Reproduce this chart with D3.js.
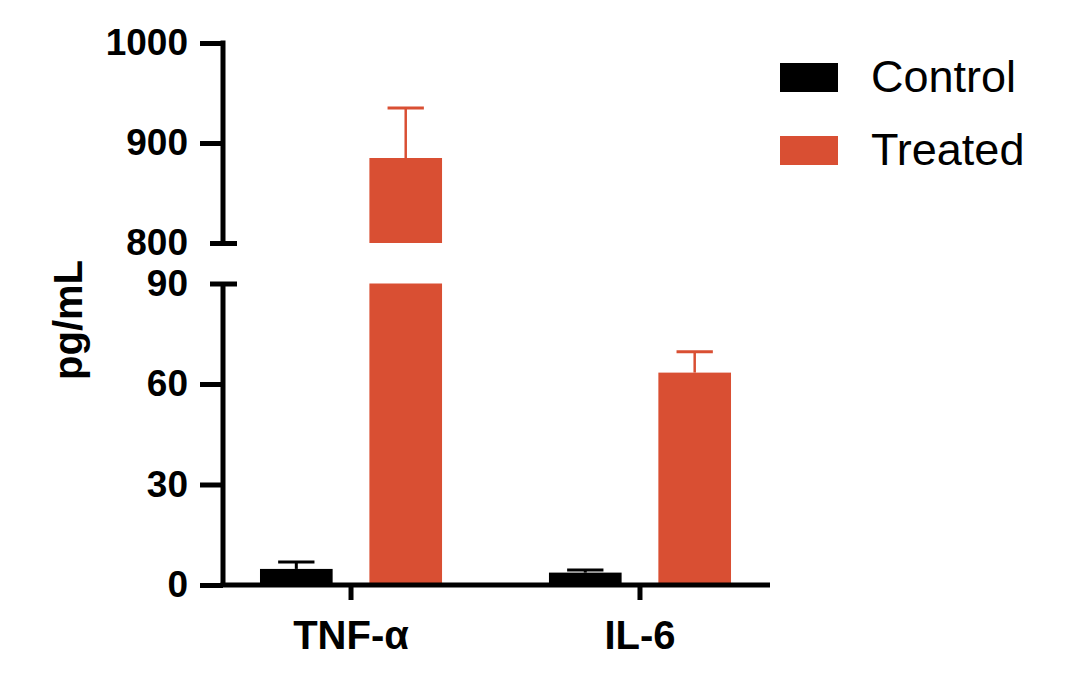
<!DOCTYPE html>
<html>
<head>
<meta charset="utf-8">
<script src="https://cdn.jsdelivr.net/npm/d3@7"></script>
<style>
html,body{margin:0;padding:0;background:#fff;}
svg{display:block;font-family:"Liberation Sans",Arial,Helvetica,sans-serif;}
</style>
</head>
<body>
<svg id="chart" width="1071" height="676"></svg>
<script>
// ---- data ----
const categories = ["TNF-α", "IL-6"];
const seriesNames = ["Control", "Treated"];
const controlValues = [4.8, 3.7];
const controlErrors = [2.1, 0.8];
const treatedValues = [885, 63.4];
const treatedErrors = [50, 6.2];
const topTicks = [800, 900, 1000];
const bottomTicks = [0, 30, 60, 90];
const yTitle = "pg/mL";

const colors = {Control: "#000000", Treated: "#D94F33"};

const svg = d3.select("#chart");
const axisX = 223;
const axisW = 5;

// scales
const yTop = d3.scaleLinear().domain([800, 1000]).range([243, 43]);
const yBot = d3.scaleLinear().domain([0, 90]).range([585, 283.5]);
const x0 = d3.scaleBand().domain(categories).range([223, 768]).paddingInner(0.37).paddingOuter(0.128);
const x1 = d3.scaleBand().domain(seriesNames).range([0, x0.bandwidth()]).paddingInner(0.336).paddingOuter(0);

const data = [];
categories.forEach((c, i) => {
  data.push({cat: c, series: "Control", v: controlValues[i], e: controlErrors[i]});
  data.push({cat: c, series: "Treated", v: treatedValues[i], e: treatedErrors[i]});
});

const bars = svg.append("g");
data.forEach(d => {
  const x = x0(d.cat) + x1(d.series);
  const w = x1.bandwidth();
  const col = colors[d.series];
  const vb = Math.min(d.v, 90);
  bars.append("rect").attr("x", x).attr("width", w)
    .attr("y", yBot(vb)).attr("height", yBot(0) - yBot(vb)).attr("fill", col);
  if (d.v > 800) {
    bars.append("rect").attr("x", x).attr("width", w)
      .attr("y", yTop(d.v)).attr("height", yTop(800) - yTop(d.v)).attr("fill", col);
  }
  const sc = d.v > 800 ? yTop : yBot;
  const cx = x + w / 2;
  const sw = d.series === "Control" ? 3 : 2.5;
  bars.append("line").attr("x1", cx).attr("x2", cx)
    .attr("y1", sc(d.v)).attr("y2", sc(d.v + d.e)).attr("stroke", col).attr("stroke-width", sw);
  bars.append("line").attr("x1", cx - w / 4).attr("x2", cx + w / 4)
    .attr("y1", sc(d.v + d.e)).attr("y2", sc(d.v + d.e)).attr("stroke", col).attr("stroke-width", 3);
});

// y axes
function styleAxis(g, capVal) {
  g.select(".domain").remove();
  g.selectAll(".tick line").attr("stroke", "#000").attr("stroke-width", axisW);
  g.selectAll(".tick text").attr("font-size", 37).attr("font-weight", "bold").attr("fill", "#000")
    .attr("x", -35);
  g.selectAll(".tick").filter(d => d === capVal).select("line").attr("x1", 14).attr("x2", -13);
}
const fmt = d3.format("d");
const gTop = svg.append("g").attr("transform", `translate(${axisX},0)`)
  .call(d3.axisLeft(yTop).tickValues(topTicks).tickFormat(fmt).tickSize(23).tickSizeOuter(0).tickPadding(0));
styleAxis(gTop, 800);
const gBot = svg.append("g").attr("transform", `translate(${axisX},0)`)
  .call(d3.axisLeft(yBot).tickValues(bottomTicks).tickFormat(fmt).tickSize(23).tickSizeOuter(0).tickPadding(0));
styleAxis(gBot, 90);
svg.append("line").attr("x1", axisX).attr("x2", axisX).attr("y1", yTop(1000) - 2.5).attr("y2", yTop(800))
  .attr("stroke", "#000").attr("stroke-width", axisW);
svg.append("line").attr("x1", axisX).attr("x2", axisX).attr("y1", yBot(90)).attr("y2", yBot(0))
  .attr("stroke", "#000").attr("stroke-width", axisW);

// x axis
const gx = svg.append("g").attr("transform", `translate(0,${yBot(0)})`)
  .call(d3.axisBottom(x0).tickSize(15).tickSizeOuter(0).tickPadding(21));
gx.select(".domain").remove();
gx.selectAll(".tick line").attr("stroke", "#000").attr("stroke-width", axisW);
gx.selectAll(".tick text").attr("font-size", 40).attr("font-weight", "bold").attr("fill", "#000");
svg.append("line").attr("x1", axisX - 2.5).attr("x2", 770).attr("y1", yBot(0)).attr("y2", yBot(0))
  .attr("stroke", "#000").attr("stroke-width", axisW);

// y title
svg.append("text").attr("transform", "translate(82,320) rotate(-90)")
  .attr("text-anchor", "middle").attr("font-size", 40).attr("font-weight", "bold").text(yTitle);

// legend
const leg = svg.append("g");
seriesNames.forEach((s, i) => {
  const y = 63 + i * 73;
  leg.append("rect").attr("x", 780).attr("y", y).attr("width", 58).attr("height", 29).attr("fill", colors[s]);
  leg.append("text").attr("x", 871).attr("y", y + 29).attr("font-size", 45).attr("fill", "#000").text(s);
});
</script>
</body>
</html>
